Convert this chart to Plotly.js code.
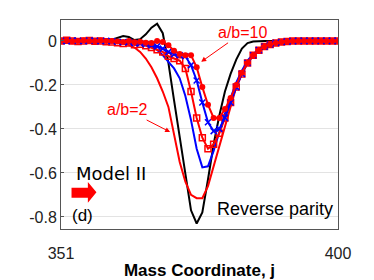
<!DOCTYPE html>
<html><head><meta charset="utf-8">
<script src="https://cdn.plot.ly/plotly-3.0.1.min.js"></script>
<style>html,body{margin:0;padding:0;background:#fff}#chart{width:374px;height:280px}</style>
</head><body><div id="chart"></div>
<script>
var j = [];
for (var k = 351; k <= 400; k++) j.push(k);

var blackLine = [0,0,0,0,0,0,0,0,0,
  0.005,0.015,0.022,0.018,0.004,0.008,0.03,0.06,0.078,0.035,
  -0.10,-0.27,-0.44,-0.61,-0.77,-0.83,-0.78,-0.63,-0.47,-0.34,
  -0.23,-0.15,-0.085,-0.035,-0.01,-0.003,
  0,0,0,0,0,0,0,0,0,0,0,0,0,0,0];

var redLine = [0,0,0,0,0,0,0,0,
  -0.002,-0.003,-0.005,-0.01,-0.018,-0.03,-0.05,-0.08,-0.12,-0.17,-0.23,
  -0.30,-0.42,-0.55,-0.64,-0.70,-0.715,-0.715,-0.66,-0.57,-0.47,
  -0.38,-0.29,-0.21,-0.15,-0.10,-0.065,-0.04,-0.025,-0.015,-0.008,
  -0.004,-0.002,0,0,0,0,0,0,0,0,0];

var blueLine = [0,0,0,0,0,0,0,0,0,0,0,0,0,
  -0.003,-0.008,-0.015,-0.025,-0.04,-0.065,
  -0.095,-0.125,-0.17,-0.25,-0.36,-0.49,-0.575,-0.57,-0.50,-0.41,
  -0.33,-0.26,-0.19,-0.135,-0.09,-0.06,-0.037,-0.022,-0.012,-0.006,
  -0.003,0,0,0,0,0,0,0,0,0];

var redSquares = [0,0.003,0,-0.003,0,0.002,-0.002,0,-0.004,
  -0.005,-0.008,-0.012,-0.01,-0.018,-0.015,-0.022,-0.03,-0.04,-0.05,
  -0.07,-0.08,-0.09,-0.125,-0.23,-0.35,-0.44,-0.49,-0.47,-0.42,
  -0.35,-0.28,-0.21,-0.15,-0.10,-0.065,-0.042,-0.026,-0.016,-0.009,
  -0.005,-0.003,-0.001,0,0,0,0,0,0,0,0];

var blueCross = [0,-0.002,0.002,0,-0.002,0.002,0,-0.002,0,
  -0.002,-0.004,-0.006,-0.005,-0.01,-0.012,-0.015,-0.02,-0.025,-0.035,
  -0.05,-0.06,-0.065,-0.07,-0.11,-0.18,-0.28,-0.37,-0.41,-0.40,
  -0.35,-0.28,-0.21,-0.15,-0.10,-0.065,-0.042,-0.026,-0.016,-0.009,
  -0.005,-0.003,-0.001,0,0,0,0,0,0,0,0];

var redCircles = [0,0.002,-0.002,0,0.002,0,-0.002,0.002,0,
  0,-0.003,-0.005,0,-0.006,-0.004,-0.008,-0.01,0,-0.005,
  -0.02,-0.045,-0.06,-0.065,-0.065,-0.12,-0.21,-0.29,-0.35,-0.35,
  -0.31,-0.26,-0.20,-0.145,-0.10,-0.065,-0.042,-0.026,-0.016,-0.009,
  -0.005,-0.003,-0.001,0,0,0,0,0,0,0,0];

var yTickVals = [0,-0.2,-0.4,-0.6,-0.8];
var yTickText = ['0','-0.2','-0.4','-0.6','-0.8'];
var xTickVals = [351,400];
var xTickText = ['351','400'];

var traces = [
  {x:j, y:blackLine, mode:'lines', line:{color:'#000000', width:2}},
  {x:j, y:redLine, mode:'lines', line:{color:'#ff0000', width:2}},
  {x:j, y:blueLine, mode:'lines', line:{color:'#0000ff', width:2}},
  {x:j, y:redSquares, mode:'lines+markers', line:{color:'#ff0000', width:2},
   marker:{symbol:'square-open', size:6, color:'#ff0000', line:{width:1.5, color:'#ff0000'}}},
  {x:j, y:blueCross, mode:'lines+markers', line:{color:'#0000ff', width:2},
   marker:{symbol:'x-thin-open', size:6, color:'#0000ff', line:{width:1.5, color:'#0000ff'}}},
  {x:j, y:redCircles, mode:'lines+markers', line:{color:'#ff0000', width:2},
   marker:{symbol:'circle', size:6, color:'#ff0000'}}
];

var layout = {
  width:374, height:280,
  margin:{l:61, r:36, t:20, b:51, pad:0},
  paper_bgcolor:'#ffffff', plot_bgcolor:'#ffffff',
  showlegend:false,
  font:{family:'Liberation Sans, Arial, sans-serif', size:16, color:'#222'},
  xaxis:{range:[351,400], tickvals:xTickVals, ticktext:xTickText, showgrid:false,
    zeroline:false, showline:true, mirror:true, linecolor:'#555', linewidth:1,
    ticks:'inside', ticklen:3, tickcolor:'#555', ticklabelstandoff:10,
    tickfont:{size:16, color:'#222'},
    title:{text:'<b>Mass Coordinate, j</b>', font:{size:17, color:'#000'}, standoff:3}},
  yaxis:{range:[-0.855,0.095], tickvals:yTickVals, ticktext:yTickText, showgrid:true,
    gridcolor:'#e3e3e3', gridwidth:1, zeroline:false, showline:true, mirror:true,
    linecolor:'#555', linewidth:1, ticks:'inside', ticklen:3, tickcolor:'#555',
    tickfont:{size:16, color:'#222'}},
  shapes:[
    {type:'path', xref:'paper', yref:'paper',
     path:'M 0.038 0.150 L 0.097 0.150 L 0.097 0.126 L 0.128 0.176 L 0.097 0.225 L 0.097 0.197 L 0.038 0.197 Z',
     fillcolor:'#ff0000', line:{width:0}}
  ],
  annotations:[
    {x:375.8, y:-0.095, ax:41, ay:-29, text:'a/b=10', showarrow:true, arrowhead:2,
     arrowsize:1, arrowwidth:1, arrowcolor:'#ff0000', font:{size:16, color:'#ff0000'}},
    {x:370.3, y:-0.414, ax:-43, ay:-22, text:'a/b=2', showarrow:true, arrowhead:2,
     arrowsize:1, arrowwidth:1, arrowcolor:'#ff0000', font:{size:16, color:'#ff0000'}},
    {x:359.8, y:-0.602, text:'Model II', showarrow:false,
     font:{family:'DejaVu Sans', size:18, color:'#000'}},
    {x:354.8, y:-0.793, text:'(d)', showarrow:false, font:{size:17, color:'#000'}},
    {x:388.9, y:-0.766, text:'Reverse parity', showarrow:false, font:{size:18, color:'#000'}}
  ]
};

Plotly.newPlot('chart', traces, layout, {displayModeBar:false, staticPlot:true});
</script>
</body></html>
